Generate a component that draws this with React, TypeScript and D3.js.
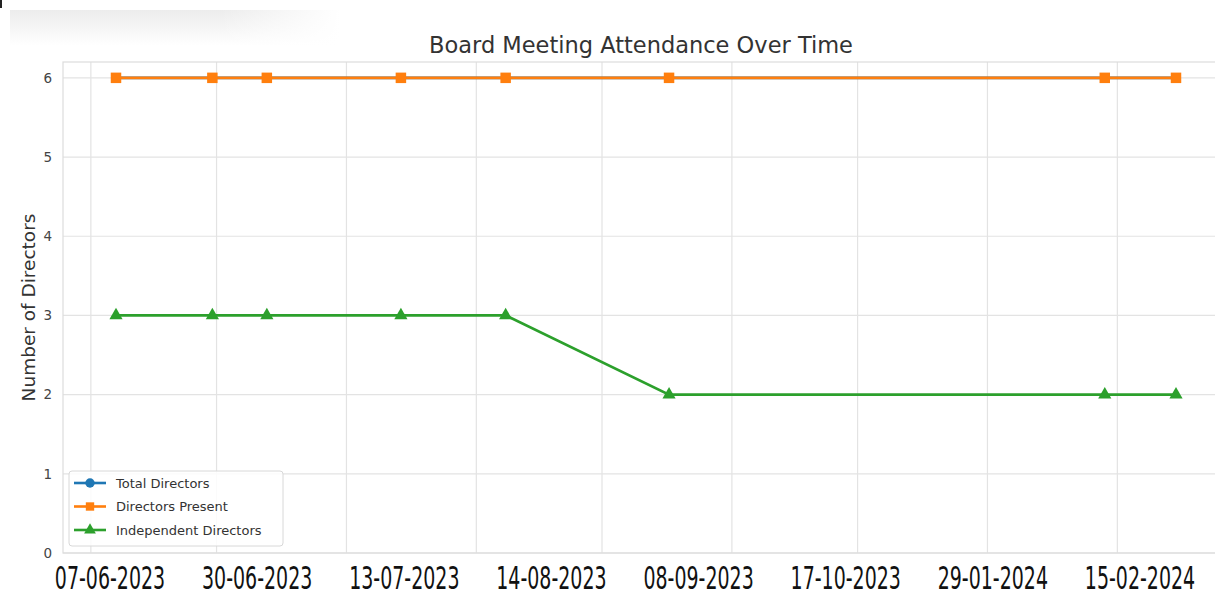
import React, { useEffect, useRef } from 'react';
import * as d3 from 'd3';

const meetingDates = ['2023-06-07', '2023-06-30', '2023-07-13', '2023-08-14', '2023-09-08', '2023-10-17', '2024-01-29', '2024-02-15'];
const dateLabels = ['07-06-2023', '30-06-2023', '13-07-2023', '14-08-2023', '08-09-2023', '17-10-2023', '29-01-2024', '15-02-2024'];
const totalDirectors = [6, 6, 6, 6, 6, 6, 6, 6];
const directorsPresent = [6, 6, 6, 6, 6, 6, 6, 6];
const independentDirectors = [3, 3, 3, 3, 3, 2, 2, 2];
const yTicks = [0, 1, 2, 3, 4, 5, 6];

const seriesList = [
  { name: 'Total Directors', values: totalDirectors, color: '#1f77b4', marker: 'circle' },
  { name: 'Directors Present', values: directorsPresent, color: '#ff7f0e', marker: 'square' },
  { name: 'Independent Directors', values: independentDirectors, color: '#2ca02c', marker: 'triangle' },
];

const W = 1215;
const H = 597;

function markerPath(kind: string, size: number) {
  const sym = kind === 'circle' ? d3.symbolCircle : kind === 'square' ? d3.symbolSquare : d3.symbolTriangle;
  return d3.symbol().type(sym).size(size)();
}

function App() {
  const svgRef = useRef<SVGSVGElement>(null);

  useEffect(() => {
    const svg = d3.select(svgRef.current);
    svg.selectAll('*').remove();

    const parse = d3.timeParse('%Y-%m-%d');
    const dates = meetingDates.map(d => parse(d) as Date);

    // plot area (right edge runs past the screenshot crop)
    const left = 63, right = 1229, top = 62, bottom = 553;
    const [d0, d1] = d3.extent(dates) as [Date, Date];
    const pad = (d1.getTime() - d0.getTime()) * 0.05;
    const x = d3.scaleTime()
      .domain([new Date(d0.getTime() - pad), new Date(d1.getTime() + pad)])
      .range([left, right]);
    const y = d3.scaleLinear().domain([0, 6.2]).range([bottom, top]);

    const defs = svg.append('defs');
    const grad = defs.append('linearGradient').attr('id', 'shade').attr('x1', 0).attr('x2', 0).attr('y1', 0).attr('y2', 1);
    grad.append('stop').attr('offset', '0%').attr('stop-color', '#ececec');
    grad.append('stop').attr('offset', '100%').attr('stop-color', '#ffffff');
    const grad2 = defs.append('linearGradient').attr('id', 'fadeR');
    grad2.append('stop').attr('offset', '0%').attr('stop-color', '#fff').attr('stop-opacity', 0);
    grad2.append('stop').attr('offset', '100%').attr('stop-color', '#fff').attr('stop-opacity', 1);
    defs.append('clipPath').attr('id', 'plotClip').append('rect')
      .attr('x', left).attr('y', top).attr('width', right - left).attr('height', bottom - top);

    svg.append('rect').attr('width', W).attr('height', H).attr('fill', '#fff');
    svg.append('rect').attr('x', 10).attr('y', 10).attr('width', 330).attr('height', 36).attr('fill', 'url(#shade)');
    svg.append('rect').attr('x', 220).attr('y', 10).attr('width', 120).attr('height', 36).attr('fill', 'url(#fadeR)');
    svg.append('rect').attr('x', 0).attr('y', 0).attr('width', 2).attr('height', 8).attr('fill', '#222');

    // grid
    const grid = svg.append('g').attr('stroke', '#e3e3e3').attr('stroke-width', 1.2);
    grid.selectAll('line.v')
      .data(x.ticks(d3.timeMonth.every(1) as d3.TimeInterval))
      .join('line')
      .attr('x1', d => x(d)).attr('x2', d => x(d))
      .attr('y1', top).attr('y2', bottom);
    grid.selectAll('line.h')
      .data(yTicks)
      .join('line')
      .attr('x1', left).attr('x2', right)
      .attr('y1', d => y(d)).attr('y2', d => y(d));
    svg.append('rect')
      .attr('x', left).attr('y', top).attr('width', right - left).attr('height', bottom - top)
      .attr('fill', 'none').attr('stroke', '#dcdcdc').attr('stroke-width', 1.2);

    // y ticks
    svg.append('g').selectAll('text')
      .data(yTicks)
      .join('text')
      .attr('x', 52).attr('y', d => y(d))
      .attr('dy', '0.35em')
      .attr('text-anchor', 'end')
      .attr('font-family', 'DejaVu Sans, sans-serif')
      .attr('font-size', 13.5)
      .attr('fill', '#444')
      .text(d => d);

    svg.append('text')
      .attr('transform', `translate(35,${(top + bottom) / 2}) rotate(-90)`)
      .attr('text-anchor', 'middle')
      .attr('font-family', 'DejaVu Sans, sans-serif')
      .attr('font-size', 18.5)
      .attr('fill', '#333')
      .text('Number of Directors');

    svg.append('text')
      .attr('x', 641).attr('y', 53)
      .attr('text-anchor', 'middle')
      .attr('font-family', 'DejaVu Sans, sans-serif')
      .attr('font-size', 22.5)
      .attr('fill', '#333')
      .text('Board Meeting Attendance Over Time');

    // series
    const line = d3.line<number>()
      .x((_, i) => x(dates[i]))
      .y(d => y(d));
    const plot = svg.append('g').attr('clip-path', 'url(#plotClip)');
    seriesList.forEach(s => {
      plot.append('path')
        .attr('d', line(s.values))
        .attr('fill', 'none')
        .attr('stroke', s.color)
        .attr('stroke-width', 2.6);
      plot.append('g').selectAll('path')
        .data(s.values)
        .join('path')
        .attr('transform', (d, i) => `translate(${x(dates[i])},${y(d)})`)
        .attr('d', markerPath(s.marker, s.marker === 'triangle' ? 75 : s.marker === 'circle' ? 70 : 110))
        .attr('fill', s.color);
    });

    // legend
    const lg = svg.append('g').attr('transform', 'translate(69,471)');
    lg.append('rect')
      .attr('width', 214).attr('height', 75).attr('rx', 3)
      .attr('fill', 'rgba(255,255,255,0.85)')
      .attr('stroke', '#d8d8d8');
    seriesList.forEach((s, i) => {
      const row = lg.append('g').attr('transform', `translate(0,${12 + i * 23.5})`);
      row.append('line').attr('x1', 5).attr('x2', 37).attr('stroke', s.color).attr('stroke-width', 2.6);
      row.append('path').attr('transform', 'translate(21,0)')
        .attr('d', markerPath(s.marker, s.marker === 'triangle' ? 60 : 70))
        .attr('fill', s.color);
      row.append('text')
        .attr('x', 47).attr('dy', '0.35em')
        .attr('font-family', 'DejaVu Sans, sans-serif')
        .attr('font-size', 13)
        .attr('fill', '#333')
        .text(s.name);
    });

    // overlaid date labels: narrow font stretched vertically
    const lx = d3.scalePoint<string>().domain(dateLabels).range([110, 1140]);
    svg.append('g').selectAll('text')
      .data(dateLabels)
      .join('text')
      .attr('transform', d => `translate(${lx(d)},589) scale(0.88,1.35)`)
      .attr('text-anchor', 'middle')
      .attr('font-family', 'Liberation Sans Narrow, DejaVu Sans Condensed, sans-serif')
      .attr('font-size', 24)
      .attr('fill', '#111')
      .text(d => d);
  }, []);

  return (
    <svg ref={svgRef} width={W} height={H}
      style={{ position: 'absolute', left: 0, top: 0, display: 'block' }} />
  );
}

export default App;
